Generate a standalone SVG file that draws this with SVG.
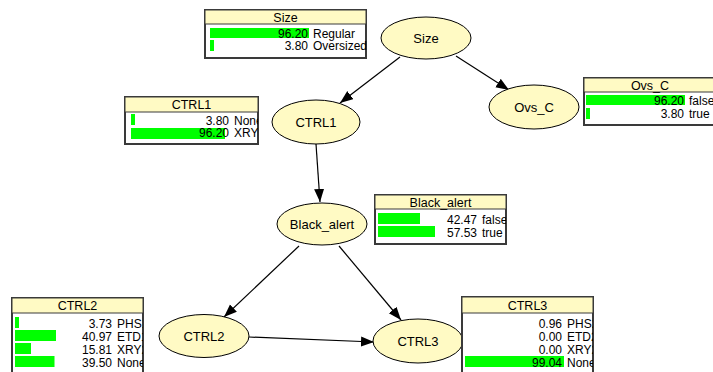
<svg xmlns="http://www.w3.org/2000/svg" width="713" height="372" viewBox="0 0 713 372">
<style>
.bg{fill:#ffffff}
.node ellipse{fill:#FFFAC4;stroke:#000;stroke-width:1}
.node text.lbl{font-family:"Liberation Sans",Arial,sans-serif;font-size:13px;text-anchor:middle;fill:#000}
.box{fill:#fff;stroke:#3a3a3a;stroke-width:2}
.hdr{fill:#FFFAC4;stroke:#3a3a3a;stroke-width:1}
.htxt{font-family:"Liberation Sans",Arial,sans-serif;font-size:12.5px;text-anchor:middle;fill:#000}
.bar{fill:#00FF00}
.num{font-family:"Liberation Sans",Arial,sans-serif;font-size:12px;text-anchor:end;fill:#000}
.st{font-family:"Liberation Sans",Arial,sans-serif;font-size:12px;fill:#000}
.edge{stroke:#000;stroke-width:1.2;fill:none;marker-end:url(#ah)}
</style>
<defs>
<marker id="ah" markerUnits="userSpaceOnUse" markerWidth="14" markerHeight="11" refX="13" refY="5" orient="auto">
<path d="M0,0 L13,5 L0,10 z" fill="#000"/>
</marker>
<clipPath id="cSize"><rect x="205" y="10" width="162" height="48"/></clipPath>
<clipPath id="cCTRL1"><rect x="125" y="97" width="133" height="47"/></clipPath>
<clipPath id="cOvs"><rect x="584" y="78" width="135" height="47"/></clipPath>
<clipPath id="cBA"><rect x="375" y="195" width="131" height="49"/></clipPath>
<clipPath id="cCTRL2"><rect x="12" y="298" width="131" height="76"/></clipPath>
<clipPath id="cCTRL3"><rect x="462" y="297" width="131" height="77"/></clipPath>
</defs>
<rect class="bg" x="0" y="0" width="713" height="372"/>

<g id="connectors">
<path class="edge" d="M400,57 L340,103"/>
<path class="edge" d="M456,56 L509,90"/>
<path class="edge" d="M316,144 L320,202"/>
<path class="edge" d="M299,246 L224,317"/>
<path class="edge" d="M339,246 L401,320"/>
<path class="edge" d="M249,337 L374,342"/>
</g>

<g id="node-Size" class="node">
<ellipse cx="426" cy="38" rx="45" ry="21"/>
<text class="lbl" x="426" y="43">Size</text>
</g>
<g id="node-CTRL1" class="node">
<ellipse cx="316" cy="122" rx="44" ry="22"/>
<text class="lbl" x="316" y="127">CTRL1</text>
</g>
<g id="node-Ovs_C" class="node">
<ellipse cx="534" cy="107" rx="45" ry="22"/>
<text class="lbl" x="534" y="112">Ovs_C</text>
</g>
<g id="node-Black_alert" class="node">
<ellipse cx="322" cy="224" rx="45" ry="21"/>
<text class="lbl" x="322" y="229">Black_alert</text>
</g>
<g id="node-CTRL2" class="node">
<ellipse cx="204" cy="336" rx="45" ry="21.5"/>
<text class="lbl" x="204" y="341">CTRL2</text>
</g>
<g id="node-CTRL3" class="node">
<ellipse cx="418" cy="341" rx="45" ry="22"/>
<text class="lbl" x="418" y="346">CTRL3</text>
</g>

<g id="table-Size">
<rect class="box" x="205" y="10" width="161" height="48"/>
<rect class="hdr" x="205" y="10" width="161" height="14"/>
<text class="htxt" x="285.5" y="22">Size</text>
<g clip-path="url(#cSize)">
<rect class="bar" x="210" y="28" width="99" height="10"/>
<rect class="bar" x="210" y="40" width="4" height="11"/>
<text class="num" x="308" y="38">96.20</text>
<text class="st" x="313" y="38">Regular</text>
<text class="num" x="308" y="50">3.80</text>
<text class="st" x="313" y="50">Oversized</text>
</g>
</g>

<g id="table-CTRL1">
<rect class="box" x="125" y="97" width="133" height="47"/>
<rect class="hdr" x="125" y="97" width="133" height="15"/>
<text class="htxt" x="191.5" y="109">CTRL1</text>
<g clip-path="url(#cCTRL1)">
<rect class="bar" x="131" y="114" width="4" height="11"/>
<rect class="bar" x="131" y="128" width="94" height="11"/>
<text class="num" x="229" y="125">3.80</text>
<text class="st" x="234" y="125">None</text>
<text class="num" x="229" y="137">96.20</text>
<text class="st" x="234" y="137">XRY1</text>
</g>
</g>

<g id="table-Ovs_C">
<rect class="box" x="584" y="78" width="135" height="47"/>
<rect class="hdr" x="584" y="78" width="135" height="14"/>
<text class="htxt" x="650" y="90">Ovs_C</text>
<g clip-path="url(#cOvs)">
<rect class="bar" x="586" y="95" width="99" height="10"/>
<rect class="bar" x="586" y="108" width="4" height="11"/>
<text class="num" x="684" y="105">96.20</text>
<text class="st" x="689" y="105">false</text>
<text class="num" x="684" y="118">3.80</text>
<text class="st" x="689" y="118">true</text>
</g>
</g>

<g id="table-Black_alert">
<rect class="box" x="375" y="195" width="131" height="49"/>
<rect class="hdr" x="375" y="195" width="131" height="14"/>
<text class="htxt" x="440.5" y="207">Black_alert</text>
<g clip-path="url(#cBA)">
<rect class="bar" x="378" y="213" width="42" height="11"/>
<rect class="bar" x="378" y="226" width="57" height="11"/>
<text class="num" x="477" y="224">42.47</text>
<text class="st" x="482" y="224">false</text>
<text class="num" x="477" y="237">57.53</text>
<text class="st" x="482" y="237">true</text>
</g>
</g>

<g id="table-CTRL2">
<rect class="box" x="12" y="298" width="131" height="76"/>
<rect class="hdr" x="12" y="298" width="131" height="15"/>
<text class="htxt" x="77.5" y="310">CTRL2</text>
<g clip-path="url(#cCTRL2)">
<rect class="bar" x="15" y="317" width="4" height="11"/>
<rect class="bar" x="15" y="330" width="41" height="11"/>
<rect class="bar" x="15" y="343" width="16" height="11"/>
<rect class="bar" x="15" y="356" width="39.5" height="11"/>
<text class="num" x="112" y="328">3.73</text>
<text class="st" x="117" y="328">PHS1</text>
<text class="num" x="112" y="341">40.97</text>
<text class="st" x="117" y="341">ETD1</text>
<text class="num" x="112" y="354">15.81</text>
<text class="st" x="117" y="354">XRY2</text>
<text class="num" x="112" y="367">39.50</text>
<text class="st" x="117" y="367">None</text>
</g>
</g>

<g id="table-CTRL3">
<rect class="box" x="462" y="297" width="131" height="77"/>
<rect class="hdr" x="462" y="297" width="131" height="16"/>
<text class="htxt" x="527.5" y="310">CTRL3</text>
<g clip-path="url(#cCTRL3)">
<rect class="bar" x="465" y="356" width="99" height="11"/>
<text class="num" x="562" y="328">0.96</text>
<text class="st" x="567" y="328">PHS2</text>
<text class="num" x="562" y="341">0.00</text>
<text class="st" x="567" y="341">ETD2</text>
<text class="num" x="562" y="354">0.00</text>
<text class="st" x="567" y="354">XRY2</text>
<text class="num" x="562" y="367">99.04</text>
<text class="st" x="567" y="367">None</text>
</g>
</g>
</svg>
